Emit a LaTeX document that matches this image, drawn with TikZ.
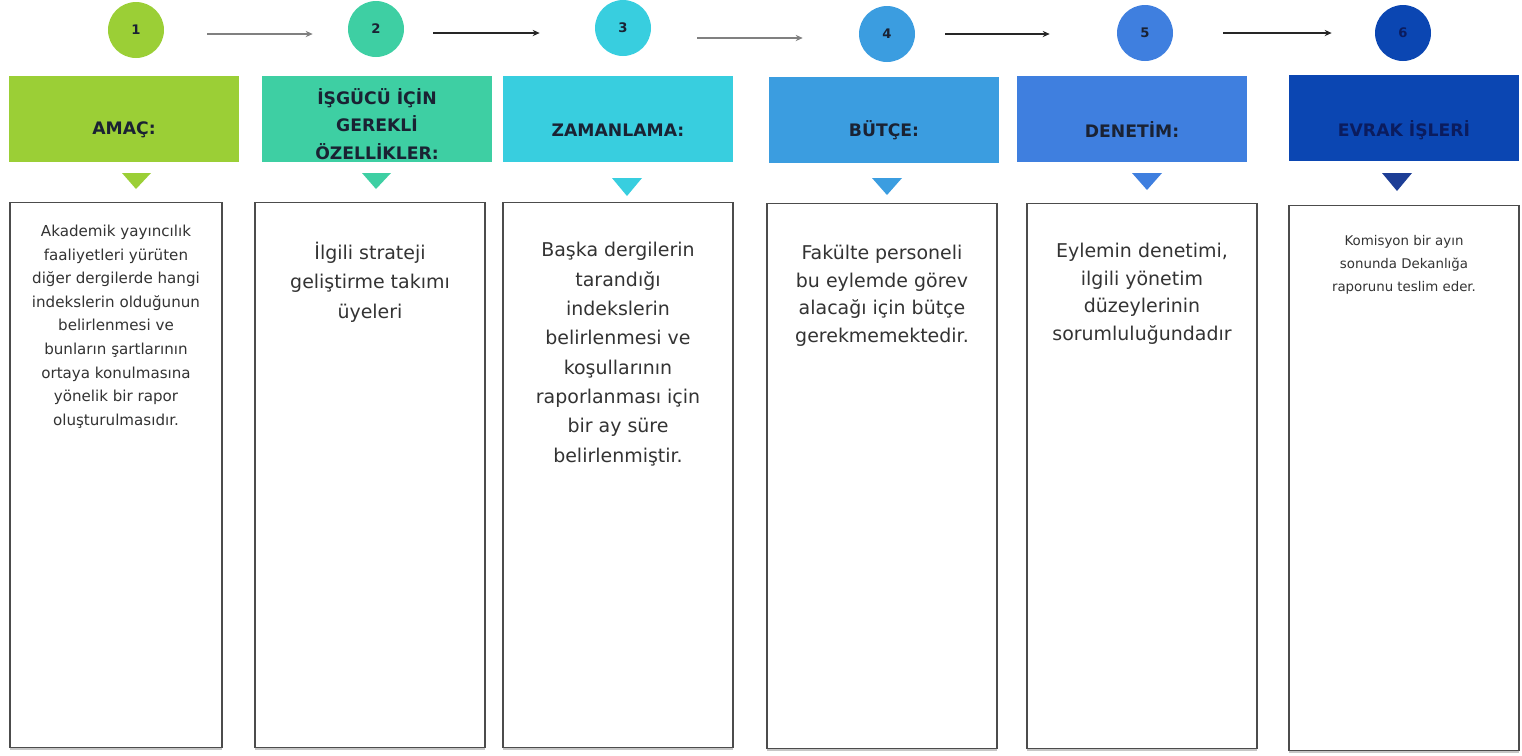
\documentclass[tikz,border=0pt]{standalone}
\usepackage{fontspec}
\setmainfont{DejaVu Sans}
\usetikzlibrary{positioning,arrows.meta,shadows}
\definecolor{cA}{HTML}{9BCF36}
\definecolor{cB}{HTML}{3ECFA3}
\definecolor{cC}{HTML}{38CEDF}
\definecolor{cD}{HTML}{3B9DE0}
\definecolor{cE}{HTML}{3F7FDF}
\definecolor{cF}{HTML}{0B46B2}
\definecolor{cFdark}{HTML}{1D3E96}
\definecolor{ink}{HTML}{1A2233}
\definecolor{inknavy}{HTML}{0B1C5E}
\tikzset{
  num/.style={
    circle,
    minimum size=1.12cm,
    inner sep=0pt,
    font=\bfseries\fontsize{7.5}{7.5}\selectfont,
    text=ink,
  },
  head/.style={
    rectangle,
    minimum width=4.62cm,
    minimum height=1.72cm,
    inner sep=0pt,
  },
  headtext/.style={
    align=center,
    inner sep=0pt,
    text=ink,
    font=\bfseries\fontsize{9.8}{15.5}\selectfont,
  },
  box/.style={
    draw=black!70,
    line width=0.7pt,
    fill=white,
    minimum width=4.6cm,
    minimum height=10.9cm,
    inner sep=0pt,
    drop shadow={shadow xshift=0pt, shadow yshift=-1.3pt, opacity=0.45},
  },
  body/.style={
    align=center,
    inner sep=0pt,
    text=black!80,
    font=\fontsize{10.8}{16.7}\selectfont,
  },
  small/.style={
    align=center,
    inner sep=0pt,
    text=black!80,
    font=\fontsize{8.6}{13.4}\selectfont,
  },
  flow/.style={
    -{Stealth[length=4pt,width=3.6pt]},
    line width=0.9pt,
    draw=black!85,
  },
}

\begin{document}
\begin{tikzpicture}[x=0.02cm,y=-0.02cm]
  \useasboundingbox (0,0) rectangle (1522,755);

  % step numbers
  \node[num, fill=cA] (c1) at (136,30) {1};
  \node[num, fill=cB] (c2) at (376,29) {2};
  \node[num, fill=cC] (c3) at (623,28) {3};
  \node[num, fill=cD] (c4) at (887,34) {4};
  \node[num, fill=cE] (c5) at (1145,33) {5};
  \node[num, fill=cF, text=inknavy] (c6) at (1403,33) {6};

  \draw[flow, draw=black!50, shorten <=0.86cm, shorten >=0.7cm]
    ([yshift=-0.08cm]c1.east) -- ([yshift=-0.08cm]c1.east -| c2.west);
  \draw[flow, shorten <=0.58cm, shorten >=1.1cm]
    ([yshift=-0.08cm]c2.east) -- ([yshift=-0.08cm]c2.east -| c3.west);
  \draw[flow, draw=black!50, shorten <=0.92cm, shorten >=1.12cm]
    ([yshift=-0.2cm]c3.east) -- ([yshift=-0.2cm]c3.east -| c4.west);
  \draw[flow, shorten <=0.6cm, shorten >=1.34cm]
    (c4.east) -- (c4.east -| c5.west);
  \draw[flow, shorten <=1cm, shorten >=0.86cm]
    (c5.east) -- (c5.east -| c6.west);

  % headers
  \node[head, fill=cA] (h1) at (124,119) {};
  \node[head, fill=cB] (h2) at (377,119) {};
  \node[head, fill=cC] (h3) at (618,119) {};
  \node[head, fill=cD] (h4) at (884,120) {};
  \node[head, fill=cE] (h5) at (1132,119) {};
  \node[head, fill=cF] (h6) at (1404,118) {};

  \node[headtext] (ht1) at ([yshift=-0.22cm]h1.center) {AMAÇ:};
  \node[headtext] (ht2) at ([yshift=-0.1cm]h2.center) {İŞGÜCÜ İÇİN\\GEREKLİ\\ÖZELLİKLER:};
  \node[headtext] (ht3) at ([yshift=-0.22cm]h3.center) {ZAMANLAMA:};
  \node[headtext] (ht4) at ([yshift=-0.2cm]h4.center) {BÜTÇE:};
  \node[headtext] (ht5) at ([yshift=-0.22cm]h5.center) {DENETİM:};
  \node[headtext, text=inknavy] (ht6) at ([yshift=-0.24cm]h6.center) {EVRAK İŞLERİ};

  % pointers
  \fill[cA] (122,173) -- (151,173) -- (136,189) -- cycle;
  \fill[cB] (362,173) -- (391,173) -- (376,189) -- cycle;
  \fill[cC] (612,178) -- (642,178) -- (627,196) -- cycle;
  \fill[cD] (872,178) -- (902,178) -- (887,195) -- cycle;
  \fill[cE] (1132,173) -- (1162,173) -- (1147,190) -- cycle;
  \fill[cFdark] (1382,173) -- (1412,173) -- (1397,191) -- cycle;

  % contents
  \node[box, minimum width=4.24cm] (b1) at (116,475) {};
  \node[box] (b2) at (370,475) {};
  \node[box] (b3) at (618,475) {};
  \node[box] (b4) at (882,476) {};
  \node[box] (b5) at (1142,476) {};
  \node[box] (b6) at (1404,478) {};

  \node[small, below=0.46cm of b1.north] (t1) {Akademik yayıncılık\\faaliyetleri yürüten\\diğer dergilerde hangi\\indekslerin olduğunun\\belirlenmesi ve\\bunların şartlarının\\ortaya konulmasına\\yönelik bir rapor\\oluşturulmasıdır.};
  \node[body, below=0.8cm of b2.north] (t2) {İlgili strateji\\geliştirme takımı\\üyeleri};
  \node[body, below=0.8cm of b3.north] (t3) {Başka dergilerin\\tarandığı\\indekslerin\\belirlenmesi ve\\koşullarının\\raporlanması için\\bir ay süre\\belirlenmiştir.};
  \node[body, font=\fontsize{10.8}{15.7}\selectfont, below=0.84cm of b4.north] (t4) {Fakülte personeli\\bu eylemde görev\\alacağı için bütçe\\gerekmemektedir.};
  \node[body, font=\fontsize{10.8}{15.7}\selectfont, below=0.8cm of b5.north] (t5) {Eylemin denetimi,\\ilgili yönetim\\düzeylerinin\\sorumluluğundadır};
  \node[small, font=\fontsize{7.6}{13}\selectfont, below=0.6cm of b6.north] (t6) {Komisyon bir ayın\\sonunda Dekanlığa\\raporunu teslim eder.};
\end{tikzpicture}
\end{document}
